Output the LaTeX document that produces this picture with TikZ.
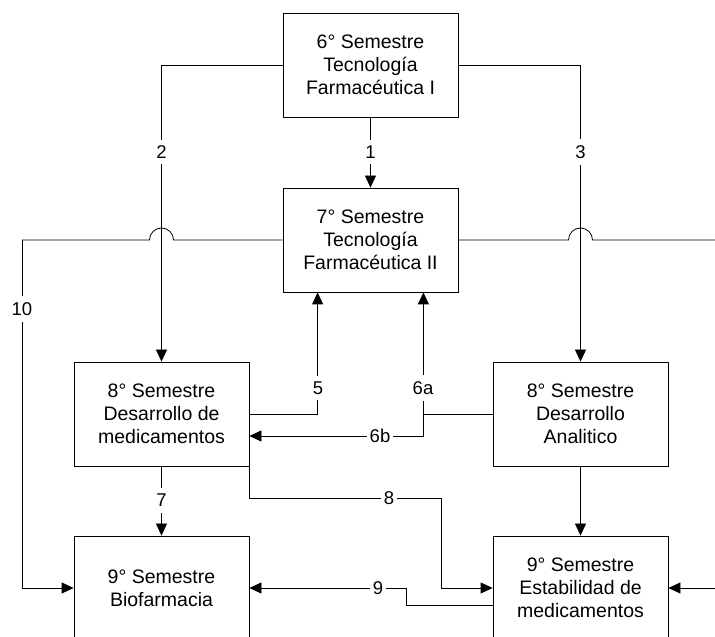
\documentclass[tikz,border=0pt]{standalone}
\usepackage{fontspec}
\setmainfont{Liberation Sans}
\usetikzlibrary{arrows.meta}
\begin{document}
\begin{tikzpicture}[x=1pt,y=1pt,
  box/.style={draw=black, line width=0.8pt, minimum width=175pt, minimum height=104pt,
    align=center, inner sep=0pt, font=\fontsize{19.5}{23}\selectfont},
  conn/.style={draw=black, line width=0.8pt},
  arr/.style={conn, -{Triangle[length=12pt,width=11pt]}},
  lbl/.style={fill=white, inner xsep=3pt, inner ysep=6pt, font=\fontsize{18.5}{20}\selectfont}]
\useasboundingbox (0,0) rectangle (715,637);
\clip (0,0) rectangle (715,637);

% boxes
\node[box] (b6)  at (370.5,572) {6° Semestre\\Tecnología\\Farmacéutica I};
\node[box] (b7)  at (370.5,397) {7° Semestre\\Tecnología\\Farmacéutica II};
\node[box] (b8L) at (161.5,223) {8° Semestre\\Desarrollo de\\medicamentos};
\node[box] (b8R) at (580.5,223) {8° Semestre\\Desarrollo\\Analitico};
\node[box] (b9B) at (161.5,49)  {9° Semestre\\Biofarmacia};
\node[box] (b9E) at (580.5,49)  {9° Semestre\\Estabilidad de\\medicamentos};

% helper coordinates
\coordinate (c5)  at ([xshift=35pt]b7.south west);
\coordinate (c6a) at ([xshift=-35pt]b7.south east);
\coordinate (j6)  at (c6a |- b8R.west);
\coordinate (c8)  at (441,139);
\coordinate (c9)  at (406,49);
\coordinate (redgeA) at (715,397);
\coordinate (redgeB) at (715,49);
\coordinate (ledge) at (22,397);

% connectors
\draw[arr] (b6.south) -- (b7.north);
\draw[arr] (b6.west) -| (b8L.north);
\draw[arr] (b6.east) -| (b8R.north);

\draw[conn] (b7.west) -- (173.5,397) arc[start angle=0,end angle=180,radius=12] -- (ledge);
\draw[arr] (ledge) |- (b9B.west);
\draw[conn] (b7.east) -- (568.5,397) arc[start angle=180,end angle=0,radius=12] -- (redgeA);
\draw[arr] (redgeB) -- (b9E.east);

\draw[arr] (b8L.east) -| (c5);
\draw[arr] (b8R.west) -| (c6a);
\draw[arr] (j6) |- ([yshift=-22pt]b8L.east);

\draw[arr] (b8L.south) -- (b9B.north);
\draw[arr] (b8R.south) -- (b9E.north);
\draw[conn] (b8L.south east) |- (c8);
\draw[arr] (c8) |- (b9E.west);
\draw[conn] ([yshift=-17pt]b9E.west) -| (c9);
\draw[arr] (c9) -- (b9B.east);

% labels
\node[lbl] (l1)  at (370.5,485) {1};
\node[lbl] (l2)  at (161.5,485) {2};
\node[lbl] (l3)  at (580.5,485) {3};
\node[lbl] (l10) at (22,328) {10};
\node[lbl] (l5)  at (318,249) {5};
\node[lbl] (l6a) at (423,249) {6a};
\node[lbl] (l6b) at (380,201) {6b};
\node[lbl] (l7)  at (161.5,136.5) {7};
\node[lbl] (l8)  at (389,139) {8};
\node[lbl] (l9)  at (378,49) {9};
\end{tikzpicture}
\end{document}
